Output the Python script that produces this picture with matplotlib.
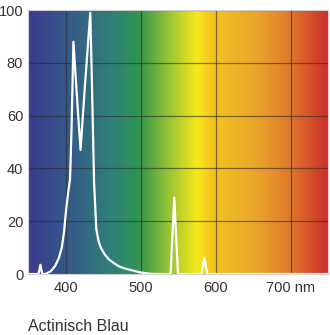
import numpy as np
import matplotlib
matplotlib.use("Agg")
import matplotlib.pyplot as plt
from matplotlib.colors import LinearSegmentedColormap

# spectrum of the lamp (nm, relative intensity)
wavelength = [350, 362, 364, 366.5, 369, 373, 380, 386, 391, 395, 398, 401, 404,
              406, 408, 410.5, 415, 420, 426, 433, 435.5, 438, 441, 444, 447,
              452, 458, 464, 472, 480, 490, 500, 510, 520,
              540, 542.5, 545, 547.5, 550,
              581, 583, 585, 587, 589, 750]
intensity = [0, 0, 0, 3.5, 0, 0, 1, 3, 6, 10, 16, 25, 32,
             36, 55, 88, 68, 47, 72, 99, 68, 35, 17, 12.5, 10,
             7.5, 5.5, 4.2, 2.8, 2, 1.3, 0.6, 0.2, 0,
             0, 14, 29, 14, 0,
             0, 3, 6, 3, 0, 0]

# background colour band along the wavelength axis
band_nm = [350, 400, 458, 493, 502, 533, 576, 595, 655, 700, 750]
band_colors = ["#3b3a8e", "#35578a", "#2f7f78", "#2e9357", "#3a9a48", "#8cbf3a",
               "#f8e81a", "#f2c522", "#eba52a", "#e07a2c", "#cc2f2a"]

xticks = [400, 500, 600, 700]
xlabels = ["400", "500", "600", "700 nm"]
yticks = [0, 20, 40, 60, 80, 100]

plt.rcParams['font.family'] = ['Liberation Sans', 'DejaVu Sans']

fig = plt.figure(figsize=(3.3, 3.35), dpi=100)
ax = fig.add_axes([0.085, 0.182, 0.909, 0.788])

lo, hi = band_nm[0], band_nm[-1]
stops = [(v - lo) / (hi - lo) for v in band_nm]
cmap = LinearSegmentedColormap.from_list("band", list(zip(stops, band_colors)))
grad = np.linspace(0, 1, 600).reshape(1, -1)
ax.imshow(grad, cmap=cmap, extent=[lo, hi, 0, 100], aspect='auto', zorder=0)

ax.plot(wavelength, intensity, color='white', lw=1.6, zorder=3, solid_joinstyle='round')

ax.set_xlim(lo, hi)
ax.set_ylim(0, 100)
ax.set_xticks(xticks)
ax.set_xticklabels(xlabels)
ax.set_yticks(yticks)
ax.grid(True, color='#2a2a2a', alpha=0.6, lw=0.9, zorder=1)
ax.tick_params(length=0, labelsize=10.5, colors='#333333')
ax.tick_params(axis='y', pad=3.5)
ax.tick_params(axis='x', pad=5)
for s in ax.spines.values():
    s.set_color('#d0d0d0')
    s.set_linewidth(0.8)

fig.text(0.085, 0.012, "Actinisch Blau", fontsize=11.5, color='#333333')

fig.savefig("out.png", dpi=100)
